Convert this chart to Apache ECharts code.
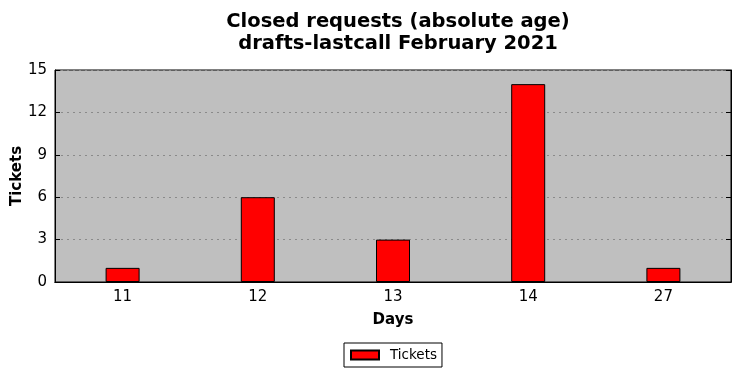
<!DOCTYPE html>
<html>
<head>
<meta charset="utf-8">
<script src="https://cdn.jsdelivr.net/npm/echarts@6/dist/echarts.min.js"></script>
<style>
  html, body { margin: 0; padding: 0; background: #fff; }
  #chart { width: 741px; height: 378px; }
</style>
</head>
<body>
<div id="chart"></div>
<script>
var days = ['11', '12', '13', '14', '27'];
var tickets = [1, 6, 3, 14, 1];
var yTicks = { min: 0, max: 15, interval: 3 };

var chart = echarts.init(document.getElementById('chart'));
var font = 'DejaVu Sans';
var option = {
    backgroundColor: '#ffffff',
    animation: false,
    title: {
        text: 'Closed requests (absolute age)\ndrafts-lastcall February 2021',
        left: 393,
        textAlign: 'center',
        top: 6,
        textStyle: {
            fontFamily: font,
            fontSize: 19.5,
            fontWeight: 'bold',
            color: '#000',
            lineHeight: 22
        }
    },
    legend: {
        top: 343,
        left: 344,
        data: ['Tickets'],
        borderColor: '#000',
        borderWidth: 1,
        borderRadius: 0,
        padding: [5, 5, 5, 6],
        itemWidth: 28,
        itemHeight: 9,
        itemGap: 10,
        icon: 'rect',
        textStyle: { fontFamily: font, fontSize: 13.5, color: '#000', padding: [0, 0, 0, 6] }
    },
    grid: {
        left: 55,
        right: 10,
        top: 70,
        bottom: 96,
        outerBoundsMode: 'none',
        containLabel: false,
        show: true,
        backgroundColor: '#bfbfbf',
        borderColor: '#000',
        borderWidth: 1
    },
    xAxis: [
        {
            type: 'category',
            data: days,
            name: 'Days',
            nameLocation: 'middle',
            nameGap: 31,
            nameTextStyle: { fontFamily: font, fontSize: 15, fontWeight: 'bold', color: '#000' },
            axisLine: { lineStyle: { color: '#000' } },
            axisTick: { inside: true, alignWithLabel: true, length: 5, lineStyle: { color: '#000' } },
            axisLabel: { fontFamily: font, fontSize: 15, color: '#000', margin: 8 }
        },
        {
            type: 'category',
            data: days,
            position: 'top',
            axisLine: { lineStyle: { color: '#000' } },
            axisTick: { inside: true, alignWithLabel: true, length: 5, lineStyle: { color: '#000' } },
            axisLabel: { show: false }
        }
    ],
    yAxis: [
        {
            type: 'value',
            min: yTicks.min,
            max: yTicks.max,
            interval: yTicks.interval,
            name: 'Tickets',
            nameLocation: 'middle',
            nameGap: 30,
            nameMoveOverlap: false,
            nameTextStyle: { fontFamily: font, fontSize: 15, fontWeight: 'bold', color: '#000' },
            axisLine: { show: true, lineStyle: { color: '#000' } },
            axisTick: { show: true, inside: true, length: 5, lineStyle: { color: '#000' } },
            axisLabel: { fontFamily: font, fontSize: 15, color: '#000', margin: 8 },
            splitLine: { show: true, lineStyle: { color: '#8a8a8a', type: [2, 4], width: 1 } }
        },
        {
            type: 'value',
            min: yTicks.min,
            max: yTicks.max,
            interval: yTicks.interval,
            position: 'right',
            axisLine: { show: true, lineStyle: { color: '#000' } },
            axisTick: { show: true, inside: true, length: 5, lineStyle: { color: '#000' } },
            axisLabel: { show: false },
            splitLine: { show: false }
        }
    ],
    series: [
        {
            name: 'Tickets',
            type: 'bar',
            data: tickets,
            barWidth: 34,
            itemStyle: { color: '#ff0000', borderColor: '#000', borderWidth: 1 }
        }
    ]
};
chart.setOption(option);
</script>
</body>
</html>
